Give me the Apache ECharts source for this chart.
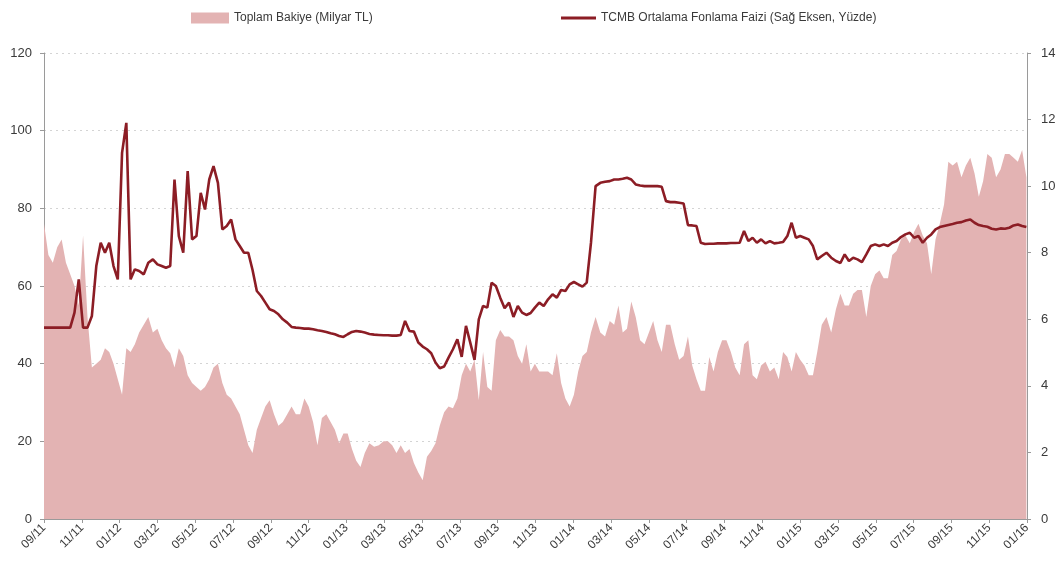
<!DOCTYPE html>
<html>
<head>
<meta charset="utf-8">
<script src="https://cdn.jsdelivr.net/npm/echarts@6/dist/echarts.min.js"></script>
<style>
  html, body { margin: 0; padding: 0; background: #ffffff; }
  #chart { width: 1063px; height: 575px; }
</style>
</head>
<body>
<div id="chart"></div>
<script>
// Weekly observations, starting 1 September 2011
const startDate = '2011-09-01';
const stepDays = 7;

// Toplam Bakiye (Milyar TL) — left axis
const bakiye = [
  76, 68, 66, 70, 72, 66, 63, 60, 55, 73, 52, 39, 40, 41, 44, 43, 40, 36, 32, 44,
  43, 45, 48, 50, 52, 48, 49, 46, 44, 42.7, 39, 44, 42, 37, 35, 34, 33, 34, 36, 39,
  40, 35, 32, 31, 29, 27, 23, 19, 17, 23, 26, 29, 30.6, 27, 24, 25, 27, 29, 27, 27,
  31, 29, 25, 19, 26, 27, 25, 23, 19.5, 22, 22, 18, 15, 13.4, 17, 19.5, 18.6, 19, 20, 20,
  19, 17, 19, 17, 18, 14.4, 12, 10, 16, 17.5, 19.5, 24, 27.5, 29, 28.5, 31, 37, 40, 38, 41,
  30.6, 43, 34, 33, 46, 48.7, 47, 47, 46, 42, 40, 45, 38, 40, 38, 38, 38, 37, 42.7, 35,
  31, 29, 32, 38, 42, 43, 48, 52, 48, 47, 51, 50, 55, 48, 49, 56, 52, 46, 45, 48,
  51, 46, 43, 50, 50, 45, 41, 42, 47, 39.5, 36, 33, 33, 41.7, 38, 43, 46, 46, 43, 39,
  37, 45, 46, 37, 36, 39.5, 40.5, 38, 39, 36, 43, 41.7, 38, 43, 41, 39.5, 37, 37, 43, 50,
  52, 48, 54, 58, 55, 55, 58, 59, 59, 52, 60, 63, 64, 62, 62, 68, 69, 72, 73, 71,
  74, 76, 73, 71, 63, 72, 76, 81, 92, 91, 92, 88, 91, 93, 89, 83, 87, 94, 93, 88,
  90, 94, 94, 93, 92, 95, 88
];

// TCMB Ortalama Fonlama Faizi (Yüzde) — right axis
const faiz = [
  5.75, 5.75, 5.75, 5.75, 5.75, 5.75, 5.75, 6.2, 7.2, 5.75, 5.75, 6.1, 7.6, 8.3, 8.0, 8.3, 7.6, 7.2, 11.0, 11.9,
  7.2, 7.5, 7.45, 7.35, 7.7, 7.8, 7.65, 7.6, 7.55, 7.6, 10.2, 8.5, 8.0, 10.45, 8.4, 8.5, 9.8, 9.3, 10.2, 10.6,
  10.1, 8.7, 8.8, 9.0, 8.4, 8.2, 8.0, 8.0, 7.48, 6.85, 6.7, 6.5, 6.3, 6.25, 6.15, 6.0, 5.9, 5.77, 5.75, 5.74,
  5.72, 5.72, 5.7, 5.67, 5.65, 5.62, 5.58, 5.55, 5.5, 5.47, 5.55, 5.62, 5.65, 5.63, 5.6, 5.56, 5.54, 5.53, 5.52, 5.52,
  5.51, 5.51, 5.53, 5.95, 5.65, 5.63, 5.3, 5.18, 5.1, 4.98, 4.7, 4.53, 4.58, 4.85, 5.1, 5.4, 4.87, 5.8, 5.3, 4.78,
  6.0, 6.4, 6.35, 7.1, 7.0, 6.65, 6.33, 6.5, 6.07, 6.4, 6.2, 6.13, 6.19, 6.35, 6.5, 6.4, 6.6, 6.75, 6.65, 6.88,
  6.85, 7.05, 7.12, 7.05, 6.98, 7.1, 8.3, 10.0, 10.1, 10.13, 10.15, 10.2, 10.2, 10.22, 10.25, 10.2, 10.05, 10.02, 10.0, 10.0,
  10.0, 10.0, 9.98, 9.55, 9.52, 9.52, 9.5, 9.48, 8.83, 8.82, 8.8, 8.3, 8.26, 8.27, 8.27, 8.28, 8.28, 8.28, 8.29, 8.29,
  8.3, 8.65, 8.35, 8.45, 8.3, 8.4, 8.28, 8.35, 8.28, 8.3, 8.32, 8.5, 8.9, 8.45, 8.5, 8.45, 8.4, 8.2, 7.8, 7.9,
  8.0, 7.85, 7.75, 7.69, 7.95, 7.75, 7.85, 7.8, 7.72, 7.95, 8.2, 8.25, 8.2, 8.25, 8.2, 8.3, 8.35, 8.47, 8.55, 8.6,
  8.45, 8.5, 8.3, 8.45, 8.55, 8.7, 8.77, 8.8, 8.83, 8.86, 8.9, 8.92, 8.97, 9.0, 8.9, 8.83, 8.8, 8.78, 8.72, 8.7,
  8.73, 8.72, 8.75, 8.82, 8.85, 8.8, 8.77
];

// Left and right axis ticks
const leftTicks = { min: 0, max: 120, interval: 20 };
const rightTicks = { min: 0, max: 14, interval: 2 };

// X axis: months counted from 09/2011, labelled every two months as MM/YY
const monthSpan = { min: 0, max: 52, interval: 2 };

const seriesNames = ['Toplam Bakiye (Milyar TL)', 'TCMB Ortalama Fonlama Faizi (Sağ Eksen, Yüzde)'];

function monthIndex(d) {
  const y = d.getUTCFullYear(), m = d.getUTCMonth(), day = d.getUTCDate();
  const dim = new Date(Date.UTC(y, m + 1, 0)).getUTCDate();
  return (y - 2011) * 12 + (m - 8) + (day - 1) / dim;
}
function monthLabel(v) {
  const k = Math.round(v);
  const mm = ((8 + k) % 12) + 1;
  const yy = 11 + Math.floor((8 + k) / 12);
  return String(mm).padStart(2, '0') + '/' + String(yy).padStart(2, '0');
}

const t0 = new Date(startDate + 'T00:00:00Z').getTime();
const xs = bakiye.map((_, i) => monthIndex(new Date(t0 + i * stepDays * 86400000)));
const areaData = bakiye.map((v, i) => [xs[i], v]);
const lineData = faiz.map((v, i) => [xs[i], v]);

const font = 'Liberation Sans, Arial, sans-serif';
const textColor = '#3a3a3a';
const axisGrey = '#9a9a9a';
const areaColor = '#e3b3b3';
const lineColor = '#8c1d25';

const chart = echarts.init(document.getElementById('chart'), null, { renderer: 'canvas' });
chart.setOption({
  animation: false,
  backgroundColor: '#ffffff',
  grid: { left: 44, right: 36, top: 53, bottom: 56, containLabel: false },
  legend: [
    {
      data: [{ name: seriesNames[0], icon: 'rect' }],
      left: 186, top: 6, height: 16,
      itemWidth: 38, itemHeight: 11,
      textStyle: { fontFamily: font, fontSize: 12, color: textColor, lineHeight: 14 }
    },
    {
      data: [{ name: seriesNames[1], icon: 'rect', itemStyle: { color: lineColor } }],
      left: 556, top: 6, height: 16,
      itemWidth: 35, itemHeight: 3,
      textStyle: { fontFamily: font, fontSize: 12, color: textColor, lineHeight: 14 }
    }
  ],
  xAxis: {
    type: 'value',
    min: monthSpan.min, max: monthSpan.max, interval: monthSpan.interval,
    axisLine: { show: true, lineStyle: { color: axisGrey, width: 1 } },
    axisTick: { show: true, length: 4, lineStyle: { color: axisGrey } },
    splitLine: { show: false },
    axisLabel: {
      rotate: 45, margin: 7,
      fontFamily: font, fontSize: 12, color: textColor,
      formatter: monthLabel
    }
  },
  yAxis: [
    {
      type: 'value',
      min: leftTicks.min, max: leftTicks.max, interval: leftTicks.interval,
      axisLine: { show: true, lineStyle: { color: axisGrey, width: 1 } },
      axisTick: { show: true, length: 4, lineStyle: { color: axisGrey } },
      splitLine: { show: true, lineStyle: { color: '#d4d4d4', type: [2, 4], width: 1.2 } },
      axisLabel: { margin: 12, fontFamily: font, fontSize: 13, color: textColor }
    },
    {
      type: 'value',
      position: 'right',
      min: rightTicks.min, max: rightTicks.max, interval: rightTicks.interval,
      axisLine: { show: true, lineStyle: { color: axisGrey, width: 1 } },
      axisTick: { show: true, length: 4, lineStyle: { color: axisGrey } },
      splitLine: { show: false },
      axisLabel: { margin: 14, fontFamily: font, fontSize: 13, color: textColor }
    }
  ],
  series: [
    {
      name: seriesNames[0],
      type: 'line',
      yAxisIndex: 0,
      data: areaData,
      showSymbol: false,
      symbol: 'none',
      lineStyle: { width: 0, color: areaColor },
      itemStyle: { color: areaColor },
      areaStyle: { color: areaColor, opacity: 1 },
      z: 1
    },
    {
      name: seriesNames[1],
      type: 'line',
      yAxisIndex: 1,
      data: lineData,
      showSymbol: false,
      symbol: 'none',
      lineStyle: { width: 2.6, color: lineColor },
      itemStyle: { color: lineColor },
      z: 3
    }
  ]
});
</script>
</body>
</html>
